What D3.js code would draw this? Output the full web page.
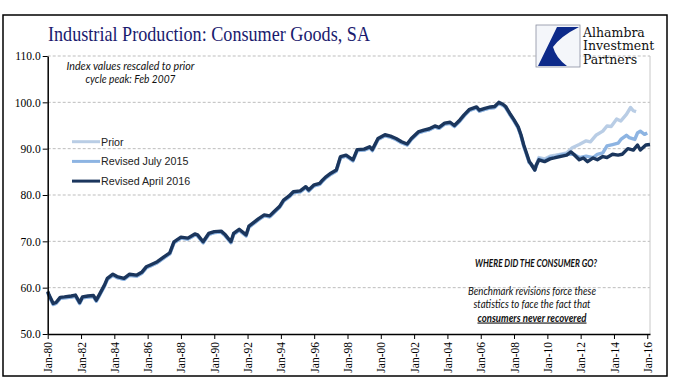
<!DOCTYPE html>
<html>
<head>
<meta charset="utf-8">
<script src="https://cdn.jsdelivr.net/npm/d3@7"></script>
<style>
  body { margin: 0; background: #fff; }
  svg { display: block; }
</style>
</head>
<body>
<div id="chart"></div>
<script>
// Revised April 2016 (dark line)
var revised_2016 = [
  ["1980-01", 59.2], ["1980-02", 58.4], ["1980-05", 56.6], ["1980-07", 56.8], ["1980-10", 57.9],
  ["1981-01", 58.0], ["1981-06", 58.2], ["1981-09", 58.4], ["1981-12", 56.8], ["1982-02", 58.0],
  ["1982-06", 58.2], ["1982-10", 58.3], ["1982-12", 57.3], ["1983-02", 58.4], ["1983-06", 60.6],
  ["1983-08", 62.0], ["1983-12", 62.9], ["1984-03", 62.4], ["1984-08", 62.0], ["1984-12", 62.9],
  ["1985-05", 62.7], ["1985-09", 63.4], ["1985-12", 64.5], ["1986-03", 64.9], ["1986-08", 65.6],
  ["1987-01", 66.7], ["1987-05", 67.5], ["1987-08", 69.9], ["1988-01", 70.9], ["1988-06", 70.7],
  ["1988-11", 71.6], ["1989-01", 71.4], ["1989-05", 69.9], ["1989-09", 71.7], ["1990-01", 72.1],
  ["1990-06", 72.2], ["1990-09", 71.4], ["1991-01", 69.9], ["1991-03", 71.7], ["1991-07", 72.6],
  ["1991-12", 71.4], ["1992-02", 73.3], ["1992-06", 74.2], ["1992-09", 74.9], ["1993-01", 75.7],
  ["1993-05", 75.5], ["1993-08", 76.4], ["1993-12", 77.5], ["1994-03", 78.9], ["1994-07", 79.8],
  ["1994-10", 80.7], ["1995-03", 80.9], ["1995-07", 81.8], ["1995-09", 81.1], ["1996-01", 82.2],
  ["1996-05", 82.5], ["1996-07", 83.2], ["1996-09", 83.8], ["1997-01", 84.7], ["1997-05", 85.4],
  ["1997-08", 88.3], ["1997-12", 88.6], ["1998-05", 87.6], ["1998-08", 89.8], ["1999-01", 89.9],
  ["1999-05", 90.4], ["1999-07", 89.8], ["1999-11", 92.2], ["2000-04", 93.0], ["2000-08", 92.7],
  ["2000-12", 92.2], ["2001-04", 91.5], ["2001-08", 91.0], ["2001-11", 92.2], ["2002-04", 93.6],
  ["2002-08", 94.0], ["2002-12", 94.3], ["2003-04", 94.9], ["2003-07", 94.6], ["2003-11", 95.5],
  ["2004-03", 95.7], ["2004-06", 95.0], ["2004-10", 96.2], ["2005-01", 97.3], ["2005-05", 98.5],
  ["2005-10", 99.0], ["2005-12", 98.3], ["2006-04", 98.7], ["2006-08", 99.0], ["2006-11", 99.1],
  ["2007-02", 100.0], ["2007-05", 99.6], ["2007-07", 99.1], ["2007-10", 97.6], ["2008-01", 96.2],
  ["2008-04", 94.7], ["2008-06", 93.0], ["2008-08", 90.8], ["2008-10", 89.0], ["2008-12", 87.2],
  ["2009-01", 86.8], ["2009-04", 85.4], ["2009-05", 86.4], ["2009-07", 87.6], ["2009-11", 87.2],
  ["2010-03", 87.8], ["2010-06", 88.0], ["2010-10", 88.3], ["2011-03", 88.6], ["2011-06", 89.3],
  ["2011-08", 88.8], ["2011-12", 87.6], ["2012-03", 88.0], ["2012-06", 87.2], ["2012-10", 88.0],
  ["2013-01", 87.6], ["2013-05", 88.3], ["2013-08", 88.1], ["2013-12", 88.8], ["2014-04", 88.6],
  ["2014-07", 88.8], ["2014-11", 90.0], ["2015-03", 89.7], ["2015-06", 90.8], ["2015-08", 89.7],
  ["2015-12", 90.8], ["2016-03", 90.9]
]

// where the older vintages split off from the dark line
var prior_tail = [
  ["2009-01", 87.0], ["2009-04", 85.8], ["2009-07", 88.3], ["2009-11", 88.0], ["2010-03", 88.6],
  ["2010-07", 88.8], ["2010-10", 89.0], ["2011-03", 89.3], ["2011-07", 90.4], ["2011-12", 91.1],
  ["2012-05", 91.9], ["2012-08", 91.7], ["2012-12", 93.1], ["2013-05", 94.0], ["2013-08", 95.1],
  ["2013-11", 95.0], ["2014-03", 96.6], ["2014-06", 96.2], ["2014-10", 97.6], ["2015-01", 99.1],
  ["2015-03", 98.4], ["2015-05", 98.2]
]

var july_2015_tail = [
  ["2009-01", 86.9], ["2009-04", 85.6], ["2009-07", 88.0], ["2009-11", 87.6], ["2010-03", 88.3],
  ["2010-07", 88.4], ["2010-10", 88.8], ["2011-03", 89.0], ["2011-08", 89.0], ["2011-12", 88.3],
  ["2012-05", 88.6], ["2012-10", 88.3], ["2013-01", 89.0], ["2013-05", 89.3], ["2013-08", 90.8],
  ["2013-12", 91.1], ["2014-04", 91.4], ["2014-06", 92.2], ["2014-10", 93.1], ["2014-12", 92.6],
  ["2015-04", 92.2], ["2015-06", 93.6], ["2015-08", 94.0], ["2015-11", 93.3], ["2016-01", 93.6]
]

var y_ticks = [50, 60, 70, 80, 90, 100, 110]
var series_names = ["Prior", "Revised July 2015", "Revised April 2016"]
var series_colors = ["#b9cde5", "#8db4e2", "#1b365d"]

var width = 673
var height = 392
// note: "top" is taken by window.top, so plot edges get their own names
var plot_left = 47.7, plot_right = 650, plot_top = 56, plot_bottom = 334

var parse = d3.timeParse("%Y-%m")
function toPoints(rows) { return rows.map((r) => ({ time: parse(r[0]), value: r[1] })) }

// older vintages share the history up to the end of 2008
var shared = revised_2016.filter((r) => r[0] <= "2008-12")
var prior_data = toPoints(shared.concat(prior_tail))
var july_data = toPoints(shared.concat(july_2015_tail))
var april_data = toPoints(revised_2016)

var svg = d3.select("#chart").append("svg")
    .attr("width", width)
    .attr("height", height)

var x = d3.scaleTime()
    .domain([new Date(1980, 0, 1), new Date(2016, 2, 1)])
    .range([plot_left, plot_right])

var y = d3.scaleLinear()
    .domain([50, 110])
    .range([plot_bottom, plot_top])

// outer frame
svg.append("rect")
    .attr("x", 3).attr("y", 15)
    .attr("width", 664).attr("height", 361)
    .attr("fill", "none")
    .attr("stroke", "#000")
    .attr("stroke-width", 1.5)

// gridlines
svg.append("g")
    .selectAll("line")
    .data(y_ticks.filter((d) => d > 50))
    .join("line")
    .attr("x1", plot_left).attr("x2", plot_right)
    .attr("y1", (d) => y(d)).attr("y2", (d) => y(d))
    .attr("stroke", "#bdbdbd")
    .attr("stroke-dasharray", "3,2")
    .attr("stroke-width", 1)

// right edge of plot area
svg.append("line")
    .attr("x1", plot_right).attr("x2", plot_right)
    .attr("y1", plot_top).attr("y2", plot_bottom)
    .attr("stroke", "#c8c8c8")

var line = d3.line()
    .x((d) => x(d.time))
    .y((d) => y(d.value))

var all_series = [prior_data, july_data, april_data]
all_series.forEach(function (data, i) {
    svg.append("path")
        .datum(data)
        .attr("fill", "none")
        .attr("stroke", series_colors[i])
        .attr("stroke-width", 3.4)
        .attr("stroke-linejoin", "round")
        .attr("transform", i < 2 ? "translate(0,1)" : null)
        .attr("d", line)
})

// y axis
var y_axis = svg.append("g")
    .attr("transform", "translate(" + plot_left + ",0)")
    .call(d3.axisLeft(y).tickValues(y_ticks).tickFormat(d3.format(".1f")).tickSize(5).tickSizeOuter(0))
y_axis.select(".domain").attr("stroke", "#000").attr("stroke-width", 1.5)
y_axis.selectAll("text")
    .attr("x", -7)
    .style("font-family", "'Liberation Serif', serif")
    .style("font-size", "11.5px")
    .attr("fill", "#000")

// x axis
var x_axis = svg.append("g")
    .attr("transform", "translate(0," + plot_bottom + ")")
    .call(d3.axisBottom(x).ticks(d3.timeYear.every(2)).tickFormat(d3.timeFormat("Jan-%y")).tickSize(5).tickSizeOuter(0))
x_axis.select(".domain").attr("stroke", "#000").attr("stroke-width", 1.5)
x_axis.selectAll("text")
    .attr("transform", "rotate(-90)")
    .attr("x", -8)
    .attr("y", 0)
    .attr("dy", "0.35em")
    .style("text-anchor", "end")
    .style("font-family", "'Liberation Serif', serif")
    .style("font-size", "11.5px")
    .attr("fill", "#000")

// title
svg.append("text")
    .attr("x", 48).attr("y", 41)
    .attr("textLength", 322)
    .attr("lengthAdjust", "spacingAndGlyphs")
    .style("font-family", "'Liberation Serif', serif")
    .style("font-size", "22px")
    .attr("fill", "#1a1a6e")
    .text("Industrial Production: Consumer Goods, SA")

// logo
var logo = svg.append("g")
logo.append("rect")
    .attr("x", 536).attr("y", 25).attr("width", 44).attr("height", 42)
    .attr("fill", "#f4f6fa").attr("stroke", "#8a8fa0").attr("stroke-width", 0.8)
logo.append("path")
    .attr("d", "M557,27 L579,27 Q561,36 553,47 Q556,58 567,66 L538,66 Z")
    .attr("fill", "#0d2a8a")
var logo_lines = ["Alhambra", "Investment", "Partners"]
logo.selectAll("text.logo")
    .data(logo_lines)
    .join("text")
    .attr("x", 583)
    .attr("y", (d, i) => 36.5 + i * 13.7)
    .style("font-family", "'DejaVu Serif', serif")
    .style("font-size", "12.5px")
    .attr("fill", "#111")
    .text((d) => d)

// legend
var legend = svg.append("g")
series_names.forEach(function (name, i) {
    var ly = 141.7 + i * 19.7
    legend.append("line")
        .attr("x1", 72).attr("x2", 100)
        .attr("y1", ly).attr("y2", ly)
        .attr("stroke", series_colors[i])
        .attr("stroke-width", 3)
    legend.append("text")
        .attr("x", 101).attr("y", ly)
        .attr("dy", "0.36em")
        .style("font-family", "'Liberation Sans', Arial, sans-serif")
        .style("font-size", "10.7px")
        .attr("fill", "#222")
        .text(name)
})

// notes, squeezed to the widths they have in the picture
function note(txt, cx, cy, size, w, bold, underline) {
    svg.append("text")
        .attr("x", cx).attr("y", cy)
        .attr("textLength", w)
        .attr("lengthAdjust", "spacingAndGlyphs")
        .style("text-anchor", "middle")
        .style("font-family", "Lato, 'Open Sans', sans-serif")
        .style("font-style", "italic")
        .style("font-weight", bold ? "bold" : "normal")
        .style("font-size", size + "px")
        .style("text-decoration", underline ? "underline" : "none")
        .attr("fill", "#111")
        .text(txt)
}
note("Index values rescaled to prior", 130.5, 70, 10.5, 128, false, false)
note("cycle peak: Feb 2007", 130.5, 83, 10.5, 90, false, false)
note("WHERE DID THE CONSUMER GO?", 536, 267, 11.5, 122, true, false)
note("Benchmark revisions force these", 532, 295, 11, 128, false, false)
note("statistics to face the fact that", 532, 308, 11, 117, false, false)
note("consumers never recovered", 532, 321.5, 11, 109, true, true)
</script>
</body>
</html>
